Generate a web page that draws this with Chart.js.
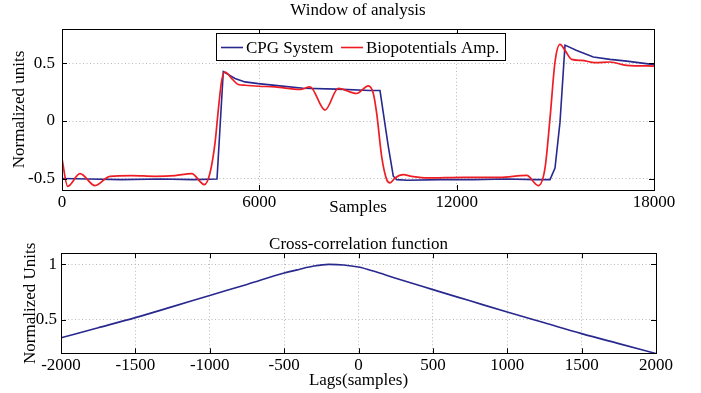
<!DOCTYPE html>
<html>
<head>
<meta charset="utf-8">
<script src="https://cdn.jsdelivr.net/npm/chart.js@4.4.1/dist/chart.umd.min.js"></script>
<style>
  html, body { margin: 0; padding: 0; background: #fff; }
  #wrap { position: relative; width: 701px; height: 393px; }
  canvas { position: absolute; left: 0; }
  #windowChart { top: 0; }
  #lagChart { top: 220px; }
</style>
</head>
<body>
<div id="wrap">
  <canvas id="windowChart" width="701" height="220"></canvas>
  <canvas id="lagChart" width="701" height="173"></canvas>
</div>
<script>
// top panel: CPG output vs amplifier output (samples, normalized units)
const cpgSamples = [0, 800, 1800, 3000, 4000, 4713, 4904, 5260, 5564, 5969, 6476, 7337, 8352, 9365, 9669,
  9769, 9921, 10073, 10177, 10500, 11500, 12500, 13500, 14400, 14838, 14990, 15142, 15294, 15650, 16155,
  16662, 17170, 18000];
const cpgValues = [-0.50, -0.505, -0.51, -0.505, -0.51, -0.505, 0.43, 0.37, 0.34, 0.325, 0.31, 0.285, 0.277, 0.265, 0.265,
  0.07, -0.22, -0.48, -0.51, -0.515, -0.51, -0.51, -0.505, -0.51, -0.51, -0.41, -0.01, 0.66, 0.614, 0.556,
  0.536, 0.521, 0.49];

const ampSamples = [0, 173, 547, 1003, 1459, 2119, 2828, 3436, 3943, 4327, 4500, 4652, 4752, 4856, 4956,
  5160, 5361, 5564, 5969, 6476, 7236, 7540, 7997, 8401, 8961, 9313, 9465, 9568, 9720, 9873, 9973, 10125,
  10377, 10633, 11100, 12200, 13300, 14129, 14482, 14686, 14838, 14990, 15142, 15294, 15497, 15801, 16206,
  16662, 17170, 18000];
const ampValues = [-0.33, -0.568, -0.458, -0.562, -0.481, -0.475, -0.481, -0.475, -0.458, -0.553, -0.452, -0.193, 0.095, 0.354, 0.426,
  0.369, 0.317, 0.311, 0.302, 0.297, 0.274, 0.297, 0.095, 0.283, 0.239, 0.305, 0.239, 0.066, -0.309, -0.51, -0.538, -0.495,
  -0.467, -0.481, -0.495, -0.49, -0.49, -0.473, -0.562, -0.41, 0.023, 0.513, 0.666, 0.614, 0.536, 0.527, 0.507,
  0.513, 0.484, 0.478];

const windowTicksX = [0, 6000, 12000, 18000];
const windowTicksY = [-0.5, 0, 0.5];

// bottom panel: cross-correlation
const lagValues = [-2000, -1750, -1500, -1250, -1000, -750, -500, -400, -300, -200, -100, 0, 100, 250, 500,
  750, 1000, 1250, 1500, 1750, 2000];
const xcorrValues = [0.34, 0.43, 0.521, 0.62, 0.721, 0.82, 0.922, 0.955, 0.985, 1.0, 0.995, 0.976, 0.94, 0.875, 0.773,
  0.672, 0.571, 0.474, 0.377, 0.287, 0.198];

const lagTicksX = [-2000, -1500, -1000, -500, 0, 500, 1000, 1500, 2000];
const lagTicksY = [0.5, 1];

const FONT = 'Liberation Serif';
const BLUE = '#28288f';
const RED = '#ee1d23';

Chart.defaults.font.family = FONT;
Chart.defaults.font.size = 17;
Chart.defaults.color = '#000';

function toPoints(xs, ys) {
    return xs.map((x, i) => ({ x: x, y: ys[i] }));
}

function fixTicks(values) {
    return scale => { scale.ticks = values.map(v => ({ value: v })); };
}

// frame, inward ticks, title and boxed legend, matlab style
const matlabBox = {
    id: 'matlabBox',
    afterDraw(chart, args, opts) {
        const ctx = chart.ctx;
        const a = chart.chartArea;
        const xs = chart.scales.x, ys = chart.scales.y;
        const px = v => Math.round(v) + 0.5;
        ctx.save();
        ctx.strokeStyle = '#000';
        ctx.lineWidth = 1;
        ctx.beginPath();
        xs.ticks.forEach(t => {
            const x = px(xs.getPixelForValue(t.value));
            ctx.moveTo(x, a.bottom); ctx.lineTo(x, a.bottom - 5);
            ctx.moveTo(x, a.top); ctx.lineTo(x, a.top + 5);
        });
        ys.ticks.forEach(t => {
            const y = px(ys.getPixelForValue(t.value));
            ctx.moveTo(a.left, y); ctx.lineTo(a.left + 5, y);
            ctx.moveTo(a.right, y); ctx.lineTo(a.right - 5, y);
        });
        ctx.stroke();
        ctx.strokeRect(px(a.left), px(a.top), Math.round(a.right - a.left), Math.round(a.bottom - a.top));

        ctx.fillStyle = '#000';
        ctx.font = '17px "' + FONT + '"';
        ctx.textAlign = 'center';
        ctx.textBaseline = 'alphabetic';
        ctx.fillText(opts.title, (a.left + a.right) / 2, opts.titleY);

        if (opts.legend) {
            const L = opts.legend;
            ctx.fillStyle = '#fff';
            ctx.fillRect(L.left, L.top, L.width, L.height);
            ctx.strokeRect(L.left + 0.5, L.top + 0.5, L.width, L.height);
            ctx.textAlign = 'left';
            L.items.forEach(item => {
                ctx.strokeStyle = item.color;
                ctx.lineWidth = 1.6;
                ctx.beginPath();
                ctx.moveTo(item.x, L.lineY);
                ctx.lineTo(item.x + 22, L.lineY);
                ctx.stroke();
                ctx.fillStyle = '#000';
                ctx.fillText(item.label, item.x + 25, L.textY);
            });
        }
        ctx.restore();
    }
};

function axisFont() {
    return { family: FONT, size: 17 };
}

new Chart(document.getElementById('windowChart'), {
    type: 'line',
    data: {
        datasets: [{
            label: 'CPG System',
            data: toPoints(cpgSamples, cpgValues),
            borderColor: BLUE,
            borderWidth: 1.6,
            pointRadius: 0,
            tension: 0,
            order: 1
        }, {
            label: 'Biopotentials Amp.',
            data: toPoints(ampSamples, ampValues),
            borderColor: RED,
            borderWidth: 1.7,
            pointRadius: 0,
            cubicInterpolationMode: 'monotone',
            order: 0
        }]
    },
    options: {
        responsive: false,
        animation: false,
        devicePixelRatio: 1,
        layout: { padding: { left: 0, right: 47, top: 29, bottom: 0 } },
        plugins: {
            legend: { display: false },
            tooltip: { enabled: false },
            matlabBox: {
                title: 'Window of analysis',
                titleY: 15,
                legend: {
                    left: 216, top: 33, width: 289, height: 27, lineY: 47.5, textY: 53,
                    items: [
                        { label: 'CPG System', color: BLUE, x: 221 },
                        { label: 'Biopotentials Amp.', color: RED, x: 341 }
                    ]
                }
            }
        },
        scales: {
            x: {
                type: 'linear', min: 0, max: 18000,
                afterBuildTicks: fixTicks(windowTicksX),
                afterFit: s => { s.height = 30; },
                ticks: { padding: 2, maxRotation: 0, autoSkip: false, font: axisFont(), callback: v => String(v) },
                grid: { color: '#b8b8b8', lineWidth: 1, drawTicks: false },
                border: { display: false, dash: [1, 2.5] },
                title: { display: true, text: 'Samples', font: axisFont(), padding: { top: 0, bottom: 2.3 } }
            },
            y: {
                min: -0.6, max: 0.8,
                afterBuildTicks: fixTicks(windowTicksY),
                afterFit: s => { s.width = 62; },
                ticks: { padding: 7, font: axisFont(), callback: v => String(v) },
                grid: { color: '#b8b8b8', lineWidth: 1, drawTicks: false },
                border: { display: false, dash: [1, 2.5] },
                title: { display: true, text: 'Normalized units', font: axisFont(), padding: { top: 9.5, bottom: 0 } }
            }
        }
    },
    plugins: [matlabBox]
});

new Chart(document.getElementById('lagChart'), {
    type: 'line',
    data: {
        datasets: [{
            label: 'Cross-correlation',
            data: toPoints(lagValues, xcorrValues),
            borderColor: BLUE,
            borderWidth: 1.6,
            pointRadius: 0,
            cubicInterpolationMode: 'monotone'
        }]
    },
    options: {
        responsive: false,
        animation: false,
        devicePixelRatio: 1,
        layout: { padding: { left: 0, right: 45, top: 33.3, bottom: 0 } },
        plugins: {
            legend: { display: false },
            tooltip: { enabled: false },
            matlabBox: { title: 'Cross-correlation function', titleY: 28.5 }
        },
        scales: {
            x: {
                type: 'linear', min: -2000, max: 2000,
                afterBuildTicks: fixTicks(lagTicksX),
                afterFit: s => { s.height = 39.7; },
                ticks: { padding: 2, maxRotation: 0, autoSkip: false, font: axisFont(), callback: v => String(v) },
                grid: { color: '#b8b8b8', lineWidth: 1, drawTicks: false },
                border: { display: false, dash: [1, 2.5] },
                title: { display: true, text: 'Lags(samples)', font: axisFont(), padding: { top: 0, bottom: 2.3 } }
            },
            y: {
                min: 0.2, max: 1.1,
                afterBuildTicks: fixTicks(lagTicksY),
                afterFit: s => { s.width = 61; },
                ticks: { padding: 4, font: axisFont(), callback: v => String(v) },
                grid: { color: '#b8b8b8', lineWidth: 1, drawTicks: false },
                border: { display: false, dash: [1, 2.5] },
                title: { display: true, text: 'Normalized Units', font: axisFont(), padding: { top: 20, bottom: 0 } }
            }
        }
    },
    plugins: [matlabBox]
});
</script>
</body>
</html>
